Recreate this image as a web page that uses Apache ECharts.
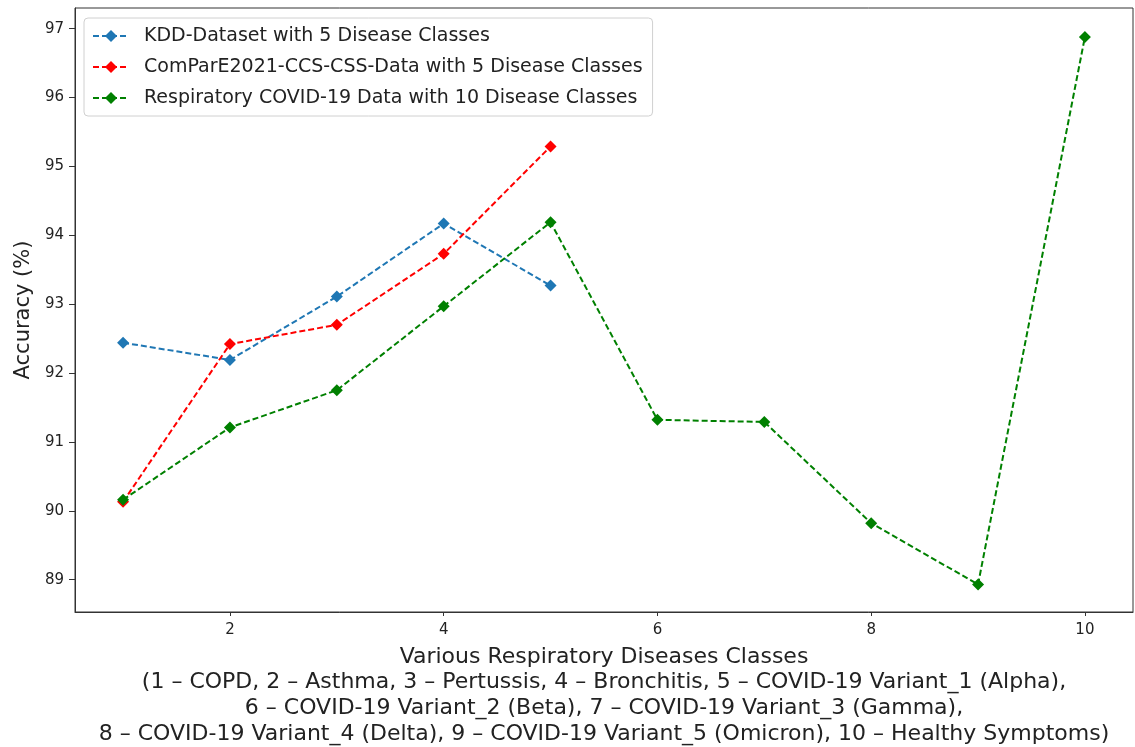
<!DOCTYPE html>
<html>
<head>
<meta charset="utf-8">
<script src="https://cdn.jsdelivr.net/npm/echarts@6/dist/echarts.min.js"></script>
<style>
  html, body { margin: 0; padding: 0; background: #fff; }
  #chart { width: 1135px; height: 747px; }
</style>
</head>
<body>
<div id="chart"></div>
<script>
/* data */
var classes = [1, 2, 3, 4, 5, 6, 7, 8, 9, 10];
var kddAcc = [92.44, 92.19, 93.11, 94.17, 93.27];
var compareAcc = [90.13, 92.42, 92.70, 93.73, 95.29];
var covidAcc = [90.16, 91.21, 91.75, 92.97, 94.19, 91.32, 91.29, 89.82, 88.93, 96.88];
var xTicks = [2, 4, 6, 8, 10];
var yTicks = [89, 90, 91, 92, 93, 94, 95, 96, 97];
var seriesNames = [
  'KDD-Dataset with 5 Disease Classes',
  'ComParE2021-CCS-CSS-Data with 5 Disease Classes',
  'Respiratory COVID-19 Data with 10 Disease Classes'
];
var xNameLines = [
  'Various Respiratory Diseases Classes',
  '(1 \u2013 COPD, 2 \u2013 Asthma, 3 \u2013 Pertussis, 4 \u2013 Bronchitis, 5 \u2013 COVID-19 Variant_1 (Alpha),',
  '6 \u2013 COVID-19 Variant_2 (Beta), 7 \u2013 COVID-19 Variant_3 (Gamma),',
  '8 \u2013 COVID-19 Variant_4 (Delta), 9 \u2013 COVID-19 Variant_5 (Omicron), 10 \u2013 Healthy Symptoms)'
];

function pairs(values){
  return values.map(function(v, i){ return [classes[i], v]; });
}

function lineSeries(name, values, color){
  return {
    name: name,
    type: 'line',
    data: pairs(values),
    symbol: 'diamond',
    symbolSize: 12,
    showSymbol: true,
    itemStyle: { color: color },
    lineStyle: { color: color, width: 2, type: [6, 3] },
    animation: false
  };
}

var font = 'DejaVu Sans';

var option = {
  backgroundColor: '#fff',
  textStyle: { fontFamily: font },
  grid: {
    left: 75,
    right: 2,
    top: 8,
    bottom: 135,
    outerBoundsMode: 'none',
    containLabel: false,
    show: true,
    borderColor: '#333',
    borderWidth: 1
  },
  legend: {
    orient: 'vertical',
    left: 84,
    top: 18,
    padding: [7, 10, 7, 8],
    itemWidth: 36,
    itemHeight: 15,
    itemGap: 9,
    backgroundColor: '#fff',
    borderColor: '#d0d0d0',
    borderWidth: 1,
    borderRadius: 4,
    textStyle: { fontFamily: font, fontSize: 19, color: '#222', padding: [0, 0, 0, 10], lineHeight: 22 },
    data: seriesNames
  },
  xAxis: {
    type: 'value',
    min: 0.55,
    max: 10.45,
    name: xNameLines.join('\n'),
    nameLocation: 'middle',
    nameGap: 32,
    nameTextStyle: { fontFamily: font, fontSize: 22, color: '#222', lineHeight: 25.7 },
    axisLine: { show: true, lineStyle: { color: '#333', width: 1 } },
    axisTick: { show: true, length: 4, customValues: xTicks, lineStyle: { color: '#333' } },
    axisLabel: { customValues: xTicks, fontSize: 15, color: '#222', margin: 11, fontFamily: font },
    splitLine: { show: false }
  },
  yAxis: {
    type: 'value',
    min: 88.53,
    max: 97.30,
    name: 'Accuracy (%)',
    nameLocation: 'middle',
    nameGap: 40,
    nameTextStyle: { fontFamily: font, fontSize: 21, color: '#222' },
    axisLine: { show: true, lineStyle: { color: '#333', width: 1 } },
    axisTick: { show: true, length: 6, customValues: yTicks, lineStyle: { color: '#333' } },
    axisLabel: { customValues: yTicks, fontSize: 15, color: '#222', margin: 11, fontFamily: font },
    splitLine: { show: false }
  },
  series: [
    lineSeries(seriesNames[0], kddAcc, '#1f77b4'),
    lineSeries(seriesNames[1], compareAcc, '#ff0000'),
    lineSeries(seriesNames[2], covidAcc, '#008000')
  ]
};

var chart = echarts.init(document.getElementById('chart'));
chart.setOption(option);
window.addEventListener('resize', function(){ chart.resize(); });
</script>
</body>
</html>
